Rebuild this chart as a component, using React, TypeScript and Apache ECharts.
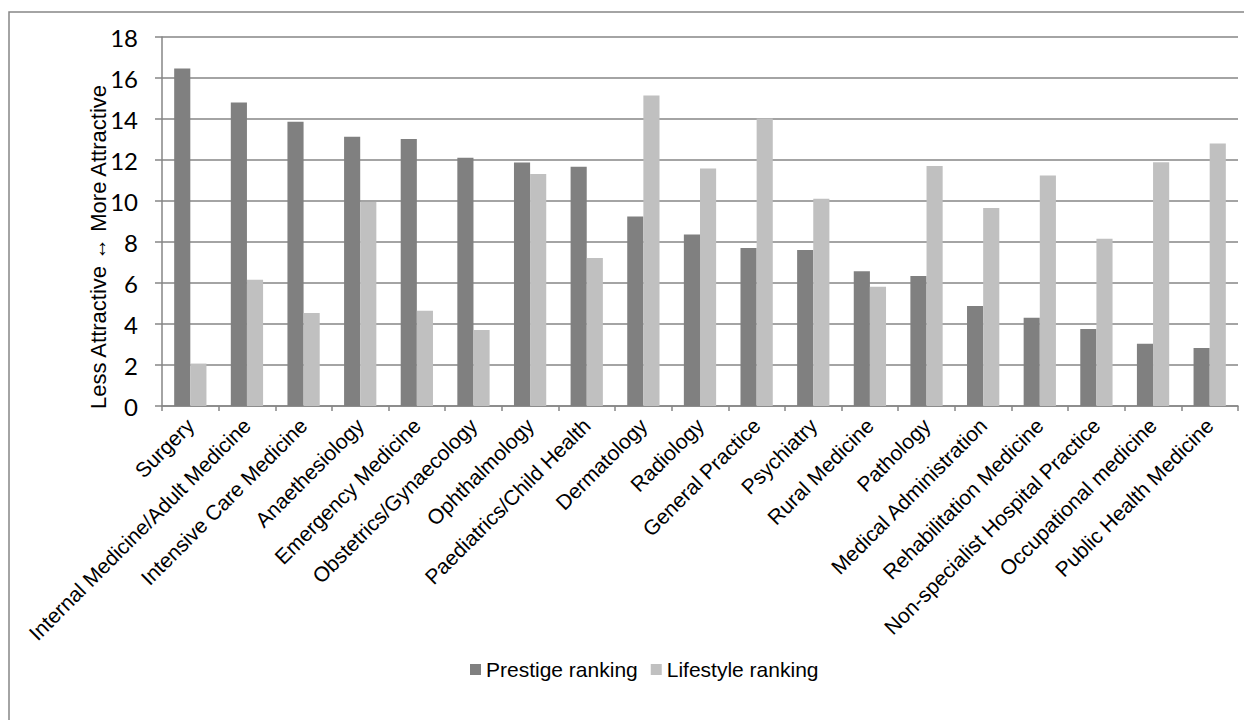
import React, { useEffect, useRef } from "react";
import * as echarts from "echarts";

const categories = [
  "Surgery",
  "Internal Medicine/Adult Medicine",
  "Intensive Care Medicine",
  "Anaethesiology",
  "Emergency Medicine",
  "Obstetrics/Gynaecology",
  "Ophthalmology",
  "Paediatrics/Child Health",
  "Dermatology",
  "Radiology",
  "General Practice",
  "Psychiatry",
  "Rural Medicine",
  "Pathology",
  "Medical Administration",
  "Rehabilitation Medicine",
  "Non-specialist Hospital Practice",
  "Occupational medicine",
  "Public Health Medicine",
];

const prestige = [16.46, 14.8, 13.87, 13.14, 13.02, 12.11, 11.88, 11.67, 9.25, 8.37, 7.71, 7.61, 6.57, 6.34, 4.88, 4.31, 3.76, 3.04, 2.83];
const lifestyle = [2.07, 6.16, 4.54, 9.95, 4.65, 3.71, 11.32, 7.22, 15.15, 11.58, 14.02, 10.11, 5.82, 11.71, 9.66, 11.24, 8.16, 11.89, 12.8];

const seriesNames = ["Prestige ranking", "Lifestyle ranking"];
const yTitle = "Less Attractive \u2194 More Attractive";

export default function App() {
  const ref = useRef<HTMLDivElement>(null);
  useEffect(() => {
    if (!ref.current) return;
    const chart = echarts.init(ref.current, null, { renderer: "svg" });
    const axisGrey = "#868686";
    chart.setOption({
      animation: false,
      backgroundColor: "#ffffff",
      textStyle: { fontFamily: "Liberation Sans, Arial, sans-serif" },
      grid: { left: 162, right: 6, top: 37, bottom: 314, containLabel: false },
      legend: {
        data: seriesNames,
        left: 465,
        top: 654,
        itemWidth: 11,
        itemHeight: 11,
        itemGap: 13,
        icon: "rect",
        textStyle: { fontSize: 21, color: "#000", fontFamily: "Liberation Sans, Arial, sans-serif" },
      },
      xAxis: {
        type: "category",
        data: categories,
        axisLine: { lineStyle: { color: axisGrey, width: 1.5 } },
        axisTick: { show: true, length: 5, lineStyle: { color: axisGrey, width: 1.5 } },
        axisLabel: {
          interval: 0,
          rotate: 45,
          margin: 16,
          fontSize: 21,
          color: "#000",
          fontFamily: "Liberation Sans, Arial, sans-serif",
        },
      },
      yAxis: {
        type: "value",
        min: 0,
        max: 18,
        interval: 2,
        axisLine: { show: true, lineStyle: { color: axisGrey, width: 1.5 } },
        axisTick: { show: true, length: 7, lineStyle: { color: axisGrey, width: 1.5 } },
        splitLine: { show: true, lineStyle: { color: axisGrey, width: 1.5 } },
        axisLabel: { margin: 24, fontSize: 24, color: "#000", fontFamily: "Lato, Carlito, sans-serif" },
      },
      series: [
        {
          name: seriesNames[0],
          type: "bar",
          data: prestige,
          itemStyle: { color: "#808080" },
          barGap: "0%",
          barCategoryGap: "43%",
        },
        {
          name: seriesNames[1],
          type: "bar",
          data: lifestyle,
          itemStyle: { color: "#c0c0c0" },
          barGap: "0%",
          barCategoryGap: "43%",
        },
      ],
      graphic: [
        {
          type: "rect",
          shape: { x: 9, y: 12, width: 1400, height: 900 },
          style: { fill: "none", stroke: axisGrey, lineWidth: 1.5 },
          silent: true,
        },
        {
          type: "text",
          x: 98,
          y: 247,
          rotation: Math.PI / 2,
          style: {
            text: yTitle,
            fontSize: 22,
            fill: "#000",
            fontFamily: "Liberation Sans, Arial, sans-serif",
            align: "center",
            verticalAlign: "middle",
          },
        },
      ],
    });
    return () => chart.dispose();
  }, []);
  return (
    <div
      ref={ref}
      style={{ position: "absolute", left: 0, top: 0, width: 1244, height: 720 }}
    />
  );
}
